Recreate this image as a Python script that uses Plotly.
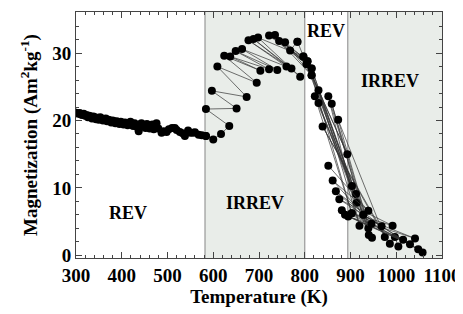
import plotly.graph_objects as go

# Low-temperature reversible band
rev_T = [298,302,305,308,311,314,317,320,323,326,329,332,335,338,341,344,347,350,353,356,
         359,362,365,368,371,374,377,380,383,386,389,392,395,398,401,404,407,410,413,416,
         419,422,425,428,431,434,437,440,443,446,449,452,455,458,461,464,467,470,473,476,
         480,487,492,498,503,510,516,520,527,533,538,545,550,556,560,568,575,584]
rev_M = [21.2,21.1,21.0,21.1,20.9,20.8,21.0,20.7,20.8,20.5,20.7,20.6,20.3,20.6,20.5,20.2,20.4,20.1,20.5,20.3,
         20.0,20.2,20.3,19.9,20.1,20.0,19.7,20.0,19.9,19.6,19.9,19.7,19.5,19.8,19.6,19.4,19.7,19.5,19.3,19.6,
         19.8,19.4,19.2,19.6,19.3,19.0,18.4,19.4,19.6,19.1,19.3,18.9,19.5,19.2,18.8,19.0,19.4,18.7,19.1,19.6,
         18.8,18.2,18.4,18.3,18.7,18.9,18.9,18.6,18.3,18.1,17.7,18.5,18.2,18.2,18.25,17.9,17.8,17.7]

# First irreversible cycle (580-800 K)
cyc1_T = [584,600,617,635,584,651,597,673,609,695,624,703,637,722,649,740,663,760,677,771,
          688,790,698,797,722,804,735,815,744,815,757,806,768,784]
cyc1_M = [17.7,17.2,18.0,19.2,21.7,21.8,24.4,23.5,28.0,25.6,29.6,27.4,29.5,27.6,30.3,27.5,30.6,28.0,31.9,27.7,
          32.1,26.5,32.3,29.5,32.6,28.4,32.7,27.7,31.8,26.7,31.6,28.8,30.4,31.7]

# Steep descent through the reversible window
cyc2_T = [784,804,893,797,903,815,912,806,913.5,815,902.6,822,928,830,919.6,851.5,939,830,940,859,
          947,873,975,839,986,997,1004.6]
cyc2_M = [31.7,28.4,15.0,29.5,10.3,27.7,9.1,28.8,7.8,26.7,6.25,23.6,6.0,24.5,4.4,23.6,4.0,22.6,3.0,22.5,
          2.6,20.1,2.7,19.1,1.7,2.7,1.3]

# High-temperature irreversible cycle
cyc3_T = [851.5,939,861,946,868,968,875.6,992,881,1015,888,1030,895,1041,902.6,1048,928,1057.6]
cyc3_M = [13.3,6.6,11.1,4.7,9.5,4.3,8.3,4.4,6.7,2.3,6.0,1.65,5.75,2.5,6.25,0.9,6.0,0.4]

bounds = [582, 800, 894]
shaded = [(582, 800), (894, 1100)]
labels = [("REV", 414, 6.3), ("IRREV", 691, 7.8), ("REV", 846, 33.3), ("IRREV", 986, 25.9)]

fig = go.Figure()
for T, M in [(rev_T, rev_M), (cyc1_T, cyc1_M), (cyc2_T, cyc2_M), (cyc3_T, cyc3_M)]:
    fig.add_trace(go.Scatter(x=T, y=M, mode="lines+markers",
                             line=dict(color="#333", width=0.7),
                             marker=dict(color="black", size=8),
                             showlegend=False))

shapes = []
for a, b in shaded:
    shapes.append(dict(type="rect", xref="x", yref="paper", x0=a, x1=b, y0=0, y1=1,
                       fillcolor="#e9ede9", line=dict(width=0), layer="below"))
for v in bounds:
    shapes.append(dict(type="line", xref="x", yref="paper", x0=v, x1=v, y0=0, y1=1,
                       line=dict(color="#999", width=1.2), layer="below"))

font = dict(family="Liberation Serif", size=19, color="black", weight="bold")
for txt, x, y in labels:
    fig.add_annotation(x=x, y=y, text=txt, showarrow=False, font=dict(font, size=18))

axis_common = dict(showline=True, linecolor="#444", linewidth=1, mirror="allticks",
                   ticks="inside", ticklen=6, tickcolor="#444", showgrid=False, zeroline=False,
                   tickfont=font, automargin=False)
# the page body adds an 8px offset, so the figure is 8px smaller than the window
fig.update_layout(
    width=455, height=306,
    margin=dict(l=68, r=21, t=4, b=56),
    paper_bgcolor="white", plot_bgcolor="white",
    shapes=shapes,
    xaxis=dict(axis_common, range=[300, 1100], dtick=100, tick0=300,
               minor=dict(dtick=20, ticks="inside", ticklen=3, tickcolor="#444"),
               title=dict(text="Temperature (K)", font=font, standoff=1)),
    yaxis=dict(axis_common, range=[-0.4, 36.1], dtick=10, tick0=0,
               minor=dict(dtick=2, ticks="inside", ticklen=3, tickcolor="#444"),
               title=dict(text="Magnetization (Am<sup>2</sup>kg<sup>-1</sup>)", font=font, standoff=9)),
)
fig.write_html("out.html")
